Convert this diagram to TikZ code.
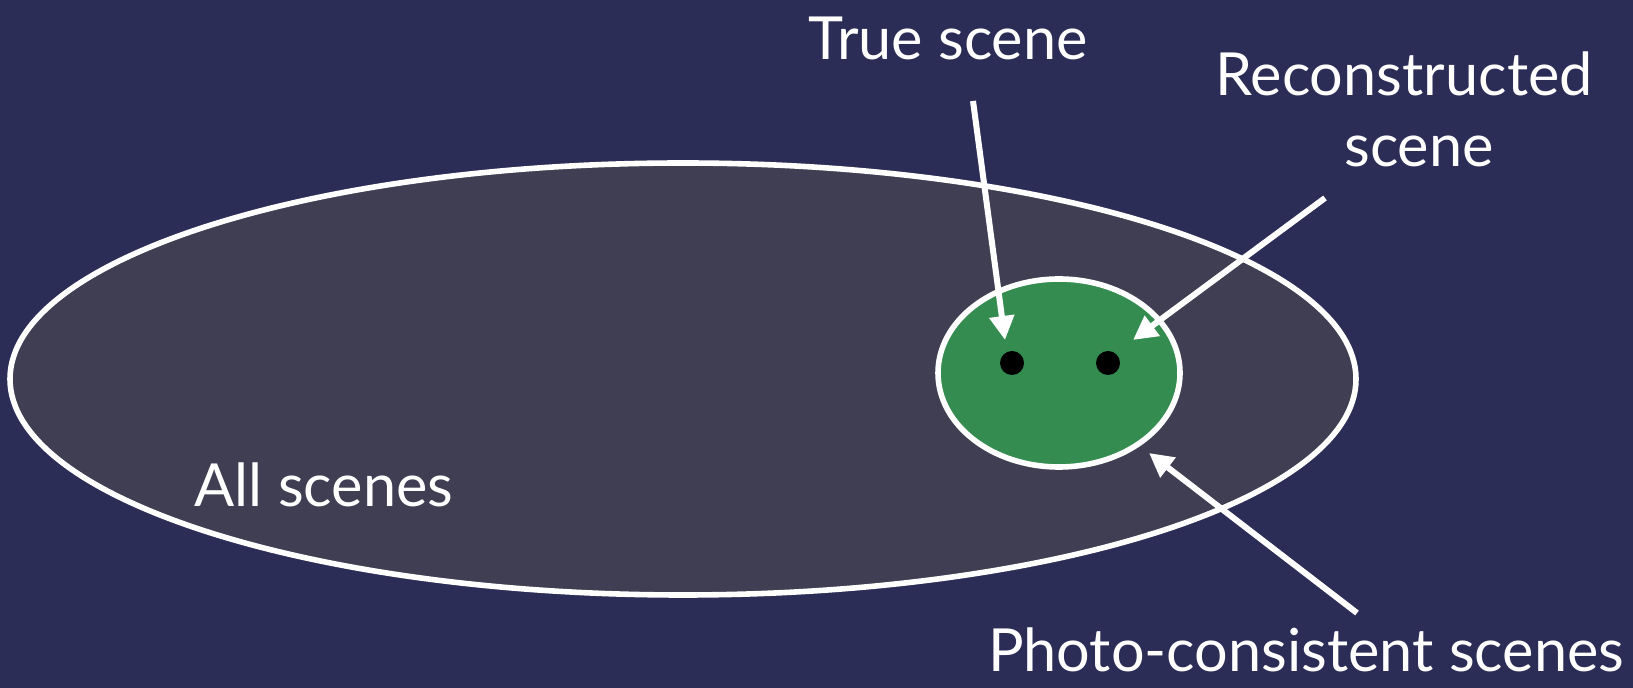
\documentclass[tikz,border=0pt]{standalone}
\usepackage{fontspec}
\setmainfont{Lato}
\usetikzlibrary{shapes.geometric,arrows.meta}
\definecolor{bgblue}{HTML}{2C2D56}
\definecolor{setgray}{HTML}{3F3E52}
\definecolor{setgreen}{HTML}{358C50}
\tikzset{
  setline/.style={draw=white, line width=2.8pt},
  ptr/.style={draw=white, line width=3pt, -{Triangle[length=12pt,width=12pt]}},
  lbl/.style={text=white, font=\fontsize{29.7}{34}\selectfont, anchor=base, inner sep=0pt},
  dotmark/.style={circle, fill=black, minimum size=12pt, inner sep=0pt},
}
\begin{document}
\begin{tikzpicture}[x=0.5pt,y=-0.5pt]
\fill[bgblue] (0,0) rectangle (1633,688);
\useasboundingbox (0,0) rectangle (1633,688);
\node[ellipse, setline, fill=setgray, minimum width=673pt, minimum height=216pt, inner sep=0pt] (all) at (683,379) {};
\node[ellipse, setline, fill=setgreen, minimum width=121pt, minimum height=94pt, inner sep=0pt] (photo) at (1059,373) {};
\node[dotmark] (d1) at (1012,363) {};
\node[dotmark] (d2) at (1108,363) {};
\node[lbl] (tlbl) at (948,60) {True scene};
\node[lbl] (rlbl) at (1404,96) {Reconstructed};
\node[lbl] (rlbl2) at (1419,167) {scene};
\node[lbl] (albl) at (324,507) {All scenes};
\node[lbl] (plbl) at (1306,672) {Photo-consistent scenes};
\coordinate (ttail) at (973,101);
\coordinate (ttip) at (1005,340);
\coordinate (rtail) at (1325,198);
\coordinate (rtip) at (1133,340);
\coordinate (ptail) at (1357,613);
\coordinate (ptip) at (1149,453);
\draw[ptr] (ttail) -- (ttip);
\draw[ptr] (rtail) -- (rtip);
\draw[ptr] (ptail) -- (ptip);
\end{tikzpicture}
\end{document}
